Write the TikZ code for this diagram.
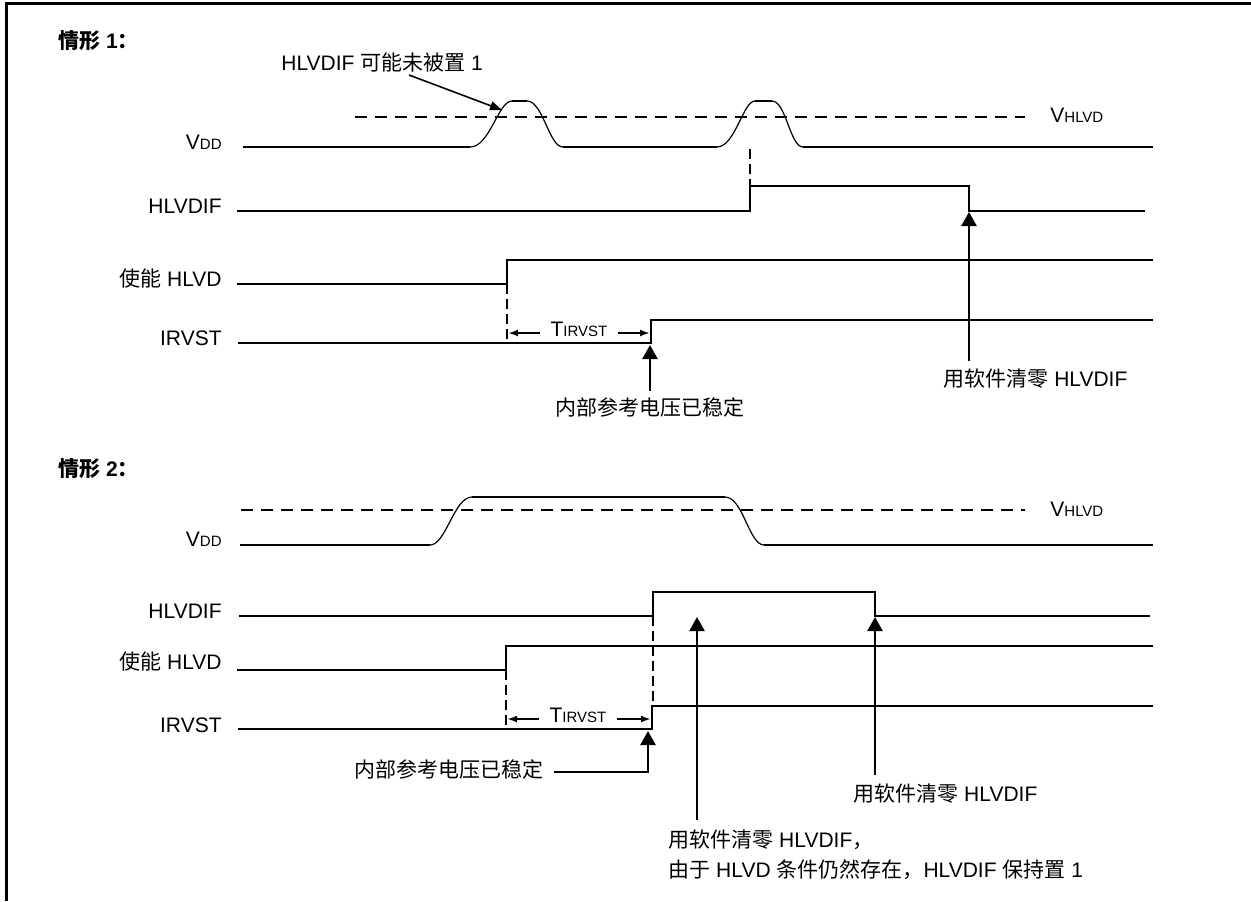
\documentclass[tikz,border=0pt]{standalone}
\usepackage{fontspec}
\setmainfont{Liberation Sans}
\newfontfamily\cjk{Noto Sans CJK SC}
\usetikzlibrary{arrows.meta}

\newcommand{\zh}[1]{{\cjk #1}}
\newcommand{\lowcap}[1]{{\fontsize{7.5}{9}\selectfont #1}}

\tikzset{
    sig/.style={line width=1.25pt},
    slope/.style={line width=0.6pt},
    vref/.style={line width=1.25pt, dash pattern=on 6pt off 4pt},
    guide/.style={line width=1.2pt, dash pattern=on 5pt off 2.5pt},
    uparrow/.style={line width=1.2pt, -{Triangle[length=7pt,width=7.5pt]}},
    dimarrow/.style={line width=1pt, -{Latex[length=5pt,width=3.5pt]}},
    lbl/.style={font=\fontsize{10.5}{12}\selectfont, inner sep=0pt},
    siglabel/.style={lbl, anchor=base east},
}

\begin{document}
\begin{tikzpicture}[x=0.5pt,y=-0.5pt]
    \useasboundingbox (0,0) rectangle (1251,901);
    \draw [line width=1.5pt] (6,901) -- (6,3) -- (1251,3);

    % case 1
    \node (case1) [lbl, anchor=base west, font=\fontsize{10.5}{12}\selectfont\bfseries] at (58,48) {\zh{情形} 1\zh{：}};
    \node (miss1) [lbl, anchor=base west] at (281,70) {HLVDIF \zh{可能未被置} 1};

    \node (vdd1) [siglabel] at (222,149) {V\lowcap{DD}};
    \node (flag1) [siglabel] at (222,213) {HLVDIF};
    \node (en1) [siglabel] at (222,286) {\zh{使能} HLVD};
    \node (irv1) [siglabel] at (222,345) {IRVST};

    \draw [vref] (355,117) -- (1025,117);
    \node (vh1) [lbl, anchor=base west] at (1050,122) {V\lowcap{HLVD}};

    % vdd pulses
    \draw [sig] (243,147) -- (470,147);
    \draw [slope] (470,147) .. controls (490,147) and (498,101) .. (512,101);
    \draw [sig] (512,101) -- (527,101);
    \draw [slope] (527,101) .. controls (543,101) and (549,147) .. (563,147);
    \draw [sig] (563,147) -- (717,147);
    \draw [slope] (717,147) .. controls (735,147) and (743,101) .. (755,101);
    \draw [sig] (755,101) -- (772,101);
    \draw [slope] (772,101) .. controls (786,101) and (790,147) .. (803,147);
    \draw [sig] (803,147) -- (1153,147);

    \draw [sig] (237,211) -- (750,211) -- (750,186) -- (969,186) -- (969,211) -- (1145,211);
    \draw [sig] (237,284) -- (507,284) -- (507,260) -- (1153,260);
    \draw [sig] (238,343) -- (651,343) -- (651,320) -- (1153,320);

    \draw [guide] (750,149) -- (750,186);
    \draw [guide] (507,284) -- (507,343);

    % pulse note
    \coordinate (miss1 tip) at (502,110);
    \draw [line width=0.8pt, -{Triangle[length=6pt,width=4.5pt]}] (409,75) -- (miss1 tip);

    % t irvst 1
    \node (tirv1) [lbl, anchor=base] at (579,336) {T\lowcap{IRVST}};
    \coordinate (tirv1 l) at (508,333);
    \coordinate (tirv1 r) at (650,333);
    \draw [dimarrow] ([xshift=-5pt]tirv1.west |- tirv1 l) -- (tirv1 l);
    \draw [dimarrow] ([xshift=5pt]tirv1.east |- tirv1 r) -- (tirv1 r);

    % stable and clear 1
    \node (ref1) [lbl, anchor=base] at (650,415) {\zh{内部参考电压已稳定}};
    \coordinate (rdy1) at (650,345);
    \draw [uparrow] ([yshift=3pt]ref1.north) -- (rdy1);

    \node (clr1) [lbl, anchor=base west] at (943,386) {\zh{用软件清零} HLVDIF};
    \coordinate (clr1 foot) at (969,361);
    \coordinate (clr1 tip) at (969,212);
    \draw [uparrow] (clr1 foot) -- (clr1 tip);

    % case 2
    \node (case2) [lbl, anchor=base west, font=\fontsize{10.5}{12}\selectfont\bfseries] at (58,476) {\zh{情形} 2\zh{：}};

    \node (vdd2) [siglabel] at (222,546) {V\lowcap{DD}};
    \node (flag2) [siglabel] at (222,618) {HLVDIF};
    \node (en2) [siglabel] at (222,669) {\zh{使能} HLVD};
    \node (irv2) [siglabel] at (222,732) {IRVST};

    \draw [vref] (241,510) -- (1025,510);
    \node (vh2) [lbl, anchor=base west] at (1050,516) {V\lowcap{HLVD}};

    % vdd dip
    \draw [sig] (240,545) -- (430,545);
    \draw [slope] (430,545) .. controls (446,545) and (454,497) .. (472,497);
    \draw [sig] (472,497) -- (725,497);
    \draw [slope] (725,497) .. controls (743,497) and (749,545) .. (764,545);
    \draw [sig] (764,545) -- (1153,545);

    \draw [sig] (239,616) -- (653,616) -- (653,592) -- (875,592) -- (875,616) -- (1150,616);
    \draw [sig] (237,670) -- (506,670) -- (506,646) -- (1153,646);
    \draw [sig] (238,729) -- (652,729) -- (652,706) -- (1153,706);

    \draw [guide] (506,670) -- (506,729);
    \draw [guide] (653,616) -- (653,706);

    % t irvst 2
    \node (tirv2) [lbl, anchor=base] at (578,722) {T\lowcap{IRVST}};
    \coordinate (tirv2 l) at (507,719);
    \coordinate (tirv2 r) at (651,719);
    \draw [dimarrow] ([xshift=-5pt]tirv2.west |- tirv2 l) -- (tirv2 l);
    \draw [dimarrow] ([xshift=5pt]tirv2.east |- tirv2 r) -- (tirv2 r);

    % stable 2
    \node (ref2) [lbl, anchor=base west] at (354,777) {\zh{内部参考电压已稳定}};
    \coordinate (rdy2) at (648,731);
    \draw [uparrow] ([xshift=5pt]ref2.east |- 0,772) -| (rdy2);

    % clear 2
    \node (clr2) [lbl, anchor=base west] at (853,801) {\zh{用软件清零} HLVDIF};
    \coordinate (clr2 foot) at (875,775);
    \coordinate (clr2 tip) at (875,617);
    \draw [uparrow] (clr2 foot) -- (clr2 tip);

    \node (keep2) [lbl, anchor=north west, align=left] at (668,829)
        {\zh{用软件清零} HLVDIF\zh{，}\\[3pt]\zh{由于} HLVD \zh{条件仍然存在，}HLVDIF \zh{保持置} 1};
    \coordinate (keep2 foot) at (697,820);
    \coordinate (keep2 tip) at (697,617);
    \draw [uparrow] (keep2 foot) -- (keep2 tip);
\end{tikzpicture}
\end{document}
